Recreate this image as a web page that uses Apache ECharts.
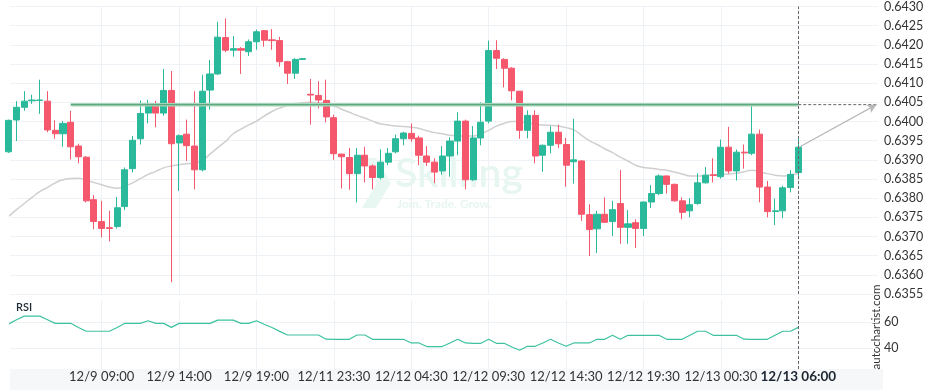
<!DOCTYPE html>
<html><head><meta charset="utf-8">
<script src="https://cdn.jsdelivr.net/npm/echarts@6/dist/echarts.min.js"></script>
<style>html,body{margin:0;padding:0;background:#fff}#c{width:936px;height:390px}</style>
</head><body><div id="c"></div>
<script>
// ---- data (30-minute candles) ----
const opens = [
0.63921,0.64004,0.64037,0.64054,0.64055,0.64053,0.63977,0.63968,0.63998,0.63936,
0.63907,0.63796,0.63739,0.63723,0.63726,0.63778,0.63877,0.63955,0.64022,0.64044,
0.64022,0.64081,0.63944,0.63967,0.63936,0.63874,0.64082,0.64124,0.64219,0.64186,
0.64190,0.64182,0.64208,0.64237,0.64213,0.64211,0.64156,0.64126,0.64162,0.64071,
0.64068,0.64055,0.64010,0.63915,0.63906,0.63864,0.63912,0.63884,0.63854,0.63894,
0.63921,0.63955,0.63969,0.63957,0.63910,0.63894,0.63871,0.63910,0.63949,0.64001,
0.63848,0.63957,0.64001,0.64185,0.64162,0.64139,0.64079,0.63977,0.64016,0.63912,
0.63938,0.63972,0.63940,0.63895,0.63897,0.63757,0.63720,0.63758,0.63739,0.63786,
0.63724,0.63736,0.63721,0.63790,0.63812,0.63858,0.63836,0.63793,0.63767,0.63786,
0.63840,0.63861,0.63856,0.63933,0.63871,0.63920,0.63917,0.63967,0.63829,0.63765,
0.63767,0.63828,0.63867];
const closes = [
0.64003,0.64037,0.64053,0.64056,0.64056,0.63978,0.63968,0.63995,0.63934,0.63908,
0.63793,0.63739,0.63721,0.63721,0.63775,0.63874,0.63951,0.64021,0.64044,0.64022,
0.64081,0.63942,0.63963,0.63937,0.63874,0.64079,0.64124,0.64220,0.64186,0.64190,
0.64186,0.64208,0.64234,0.64212,0.64211,0.64156,0.64126,0.64162,0.64164,0.64069,
0.64056,0.64012,0.63916,0.63908,0.63864,0.63912,0.63884,0.63854,0.63894,0.63917,
0.63955,0.63970,0.63955,0.63912,0.63894,0.63868,0.63910,0.63949,0.64001,0.63848,
0.63957,0.63998,0.64185,0.64165,0.64139,0.64080,0.63977,0.64016,0.63910,0.63938,
0.63972,0.63942,0.63886,0.63900,0.63758,0.63718,0.63758,0.63737,0.63770,0.63724,
0.63733,0.63721,0.63790,0.63812,0.63858,0.63836,0.63793,0.63763,0.63783,0.63840,
0.63860,0.63859,0.63933,0.63871,0.63920,0.63918,0.63967,0.63829,0.63765,0.63767,
0.63827,0.63862,0.63933];
const lows = [
0.63918,0.63949,0.64028,0.64046,0.64020,0.63972,0.63955,0.63934,0.63901,0.63891,
0.63789,0.63719,0.63698,0.63687,0.63721,0.63769,0.63867,0.63940,0.63995,0.63985,
0.64015,0.63581,0.63819,0.63897,0.63823,0.63870,0.64031,0.64122,0.64181,0.64169,
0.64124,0.64171,0.64187,0.64195,0.64187,0.64143,0.64098,0.64111,0.64161,0.63992,
0.64034,0.63998,0.63900,0.63825,0.63822,0.63789,0.63841,0.63823,0.63849,0.63886,
0.63917,0.63938,0.63947,0.63886,0.63884,0.63839,0.63861,0.63856,0.63912,0.63823,
0.63845,0.63938,0.63995,0.64137,0.64089,0.64055,0.63955,0.63956,0.63891,0.63869,
0.63917,0.63931,0.63830,0.63838,0.63741,0.63649,0.63657,0.63735,0.63701,0.63681,
0.63681,0.63670,0.63701,0.63774,0.63808,0.63812,0.63791,0.63745,0.63750,0.63783,
0.63838,0.63841,0.63851,0.63864,0.63846,0.63877,0.63912,0.63789,0.63750,0.63730,
0.63748,0.63815,0.63849];
const highs = [
0.64005,0.64053,0.64079,0.64070,0.64109,0.64079,0.64003,0.64001,0.64028,0.63942,
0.63910,0.63808,0.63793,0.63767,0.63803,0.63880,0.63962,0.64055,0.64057,0.64054,
0.64137,0.64132,0.63966,0.64005,0.64079,0.64122,0.64161,0.64260,0.64269,0.64223,
0.64194,0.64214,0.64240,0.64238,0.64241,0.64221,0.64158,0.64165,0.64165,0.64111,
0.64105,0.64109,0.64018,0.63915,0.63931,0.63931,0.63934,0.63888,0.63927,0.63931,
0.63966,0.63973,0.63995,0.63963,0.63936,0.63904,0.63936,0.63959,0.64024,0.64005,
0.63988,0.64050,0.64211,0.64212,0.64165,0.64142,0.64079,0.64029,0.64029,0.63940,
0.63988,0.63992,0.63957,0.64007,0.63899,0.63784,0.63767,0.63802,0.63793,0.63874,
0.63769,0.63745,0.63791,0.63834,0.63862,0.63859,0.63838,0.63802,0.63800,0.63865,
0.63881,0.63904,0.63953,0.63986,0.63927,0.63940,0.64044,0.63979,0.63845,0.63799,
0.63832,0.63873,0.63956];
const movingAvg = [
0.63753,0.63770,0.63786,0.63802,0.63817,0.63828,0.63840,0.63848,0.63851,0.63852,
0.63847,0.63841,0.63835,0.63829,0.63826,0.63832,0.63840,0.63851,0.63862,0.63870,
0.63879,0.63884,0.63887,0.63890,0.63892,0.63898,0.63915,0.63932,0.63948,0.63968,
0.63980,0.63991,0.64001,0.64014,0.64026,0.64035,0.64042,0.64047,0.64049,0.64050,
0.64049,0.64048,0.64041,0.64032,0.64024,0.64016,0.64009,0.64001,0.63994,0.63991,
0.63988,0.63987,0.63985,0.63982,0.63976,0.63971,0.63968,0.63964,0.63963,0.63962,
0.63962,0.63968,0.63977,0.63988,0.63995,0.64000,0.64000,0.63996,0.63993,0.63991,
0.63990,0.63988,0.63984,0.63978,0.63964,0.63950,0.63940,0.63929,0.63919,0.63907,
0.63897,0.63886,0.63880,0.63878,0.63875,0.63873,0.63868,0.63863,0.63858,0.63858,
0.63859,0.63860,0.63861,0.63863,0.63865,0.63869,0.63873,0.63869,0.63864,0.63860,
0.63858,0.63861,0.63864];
const rsiValues = [
58.8,62,64.8,64.8,64.8,62,59.2,59.2,59.2,56,
53.1,53.1,53.1,53.1,56,59.2,59.2,59.2,61.2,59.2,
59.2,56.1,59.2,59.2,59.2,59.2,59.2,61.7,61.7,61.7,
59.2,59.2,61.2,58.5,56,53,50.2,50.2,50.2,50.2,
50.2,47,46.9,46.9,46.9,50.2,50.2,46.9,46.9,46.9,
46.9,46.9,44.1,44.1,41.3,41.3,41.3,44,46.9,44.1,
43.8,43.8,46.9,43.8,43.8,41,38.5,41.5,41.5,44,
46.9,44,41.5,44.1,44.1,44.1,46.9,46.9,50,46.9,
50,50,50,50,50,46.9,46.9,46.9,50,53.1,
53.1,50,50,50,50,47,46.9,46.9,46.9,50,
53.1,53.1,56.1];
const tickIndex = [12,22,32,42,52,62,72,82,92,102];
const tickLabels = ['12/9 09:00','12/9 14:00','12/9 19:00','12/11 23:30','12/12 04:30','12/12 09:30','12/12 14:30','12/12 19:30','12/13 00:30','12/13 06:00'];
const rsiTicks = [40, 60];
const resistanceLevel = 0.64044;
const resistanceStart = 8;

// ---- build ----
const n = opens.length;
const last = n - 1;
const xMin = 0.155, xMax = 112.3;
const candleData = opens.map((o, i) => [i, o, closes[i], lows[i], highs[i]]);
const maData = movingAvg.map((v, i) => [i, v]);
const rsiData = rsiValues.map((v, i) => [i, v]);
const GREEN = '#2ab99a', RED = '#f5576d', GRID = '#eef1f5';
const FONT = 'Lato';

const chart = echarts.init(document.getElementById('c'), null, {renderer: 'canvas'});
const xCommon = {
  type: 'value', min: xMin, max: xMax,
  axisLine: {show: false},
  axisTick: {show: false, customValues: tickIndex},
  splitLine: {show: true, lineStyle: {color: GRID, width: 1}}
};
chart.setOption({
  animation: false,
  backgroundColor: '#ffffff',
  textStyle: {fontFamily: FONT},
  grid: [
    {left: 10, right: 58, top: 5, bottom: 96},
    {left: 10, right: 58, top: 300, bottom: 21}
  ],
  xAxis: [
    Object.assign({}, xCommon, {gridIndex: 0, axisLabel: {show: false}}),
    Object.assign({}, xCommon, {gridIndex: 1, axisLabel: {
      show: true, customValues: tickIndex, margin: 1, color: '#333', fontSize: 13, fontFamily: FONT,
      formatter: function (v) {
        const k = tickIndex.indexOf(Math.round(v));
        if (k < 0) return '';
        return k === tickIndex.length - 1 ? '{b|' + tickLabels[k] + '}' : tickLabels[k];
      },
      rich: {b: {fontWeight: 'bold', fontSize: 13.5, color: '#1b2530', fontFamily: FONT}}
    }})
  ],
  yAxis: [
    {gridIndex: 0, type: 'value', position: 'right', min: 0.6355, max: 0.6430, interval: 0.0005,
     axisLine: {show: false}, axisTick: {show: false},
     axisLabel: {color: '#333', fontSize: 12.5, margin: 6, fontFamily: FONT, formatter: v => v.toFixed(4)},
     splitLine: {show: true, lineStyle: {color: GRID}}},
    {gridIndex: 1, type: 'value', position: 'right', min: 24, max: 77.2,
     axisLine: {show: false}, axisTick: {show: false, customValues: rsiTicks},
     axisLabel: {customValues: rsiTicks, color: '#333', fontSize: 12.5, margin: 6, fontFamily: FONT},
     splitLine: {show: true, lineStyle: {color: GRID}}}
  ],
  graphic: [
    {type: 'rect', z: -10, shape: {x: 10, y: 369, width: 873, height: 21}, style: {fill: '#f6f7f9'}},
    {type: 'polygon', z: 1, shape: {points: [[362,158],[376,158],[391,183],[376,208],[362,208],[377,183]]}, style: {fill: '#e9f7f2'}},
    {type: 'text', z: 1, style: {text: 'Skilling', x: 395, y: 174, textVerticalAlign: 'middle', font: '600 41px Lato', fill: '#e7f6f0'}},
    {type: 'text', z: 1, style: {text: 'Join. Trade. Grow.', x: 397, y: 204, textVerticalAlign: 'middle', font: 'bold 12px Lato', fill: '#e7f6f0'}},
    {type: 'text', style: {text: 'RSI', x: 16, y: 307, textVerticalAlign: 'middle', font: '600 11px Lato', fill: '#1c2833'}},
    {type: 'text', rotation: Math.PI / 2, x: 876, y: 327, style: {text: 'autochartist.com', x: 0, y: 0, textAlign: 'center', textVerticalAlign: 'middle', font: '11.5px Lato', fill: '#333'}}
  ],
  series: [
    {type: 'line', xAxisIndex: 0, yAxisIndex: 0, data: maData, showSymbol: false, smooth: true, z: 1,
     lineStyle: {color: '#cfcfcf', width: 1.5}},
    {type: 'line', xAxisIndex: 0, yAxisIndex: 0, showSymbol: false, z: 3,
     data: [[resistanceStart, resistanceLevel], [last, resistanceLevel]],
     lineStyle: {color: '#a6d6b9', width: 3.5}},
    {type: 'line', xAxisIndex: 0, yAxisIndex: 0, showSymbol: false, z: 3,
     data: [[resistanceStart, resistanceLevel], [last, resistanceLevel]],
     lineStyle: {color: '#5ea77f', width: 1.2}},
    {type: 'line', xAxisIndex: 0, yAxisIndex: 0, showSymbol: false, z: 3,
     data: [[last, resistanceLevel], [xMax, resistanceLevel]],
     lineStyle: {color: '#666', width: 1, type: [3, 2]}},
    {type: 'candlestick', xAxisIndex: 0, yAxisIndex: 0, data: candleData, encode: {x: 0, y: [1, 2, 3, 4]},
     barWidth: 6.6, z: 2,
     itemStyle: {color: GREEN, color0: RED, borderColor: GREEN, borderColor0: RED, borderWidth: 1}},
    {type: 'line', xAxisIndex: 0, yAxisIndex: 0, data: [], z: 4,
     markLine: {silent: true, animation: false, symbol: ['none', 'arrow'], symbolSize: [7, 9], label: {show: false},
       lineStyle: {color: '#b8b8b8', width: 1.2, type: 'solid'},
       data: [[{coord: [last + 0.1, closes[last]]}, {coord: [xMax - 0.2, resistanceLevel]}]]}},
    {type: 'line', xAxisIndex: 0, yAxisIndex: 0, data: [], z: 4,
     markLine: {silent: true, animation: false, symbol: ['none', 'none'], label: {show: false},
       lineStyle: {color: '#666', width: 1, type: [3, 2]}, data: [{xAxis: last}]}},
    {type: 'line', xAxisIndex: 1, yAxisIndex: 1, data: rsiData, showSymbol: false, z: 3,
     lineStyle: {color: '#3dc2a0', width: 1.2},
     markLine: {silent: true, animation: false, symbol: ['none', 'none'], label: {show: false},
       lineStyle: {color: '#666', width: 1, type: [3, 2]}, data: [{xAxis: last}]}}
  ]
});
</script>
</body></html>
